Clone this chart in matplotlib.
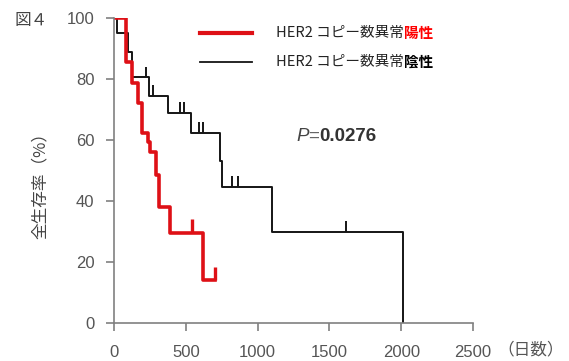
import numpy as np
import matplotlib
matplotlib.use('Agg')
import matplotlib.pyplot as plt
from matplotlib.lines import Line2D

# survival curves (days, % surviving)
pos_days = [0, 85, 125, 170, 195, 237, 251, 290, 310, 390, 620, 704]
pos_surv = [100, 85.7, 78.6, 72, 62.3, 59.5, 56, 48.5, 38, 29.5, 14, 14]
pos_cens_days = [544, 704]
pos_cens_surv = [29.5, 14]

neg_days = [0, 21, 98, 125, 244, 376, 537, 739, 753, 1101, 2014]
neg_surv = [100, 95, 89, 80.5, 74.5, 69, 62.3, 53, 44.6, 29.8, 0]
neg_cens_days = [223, 272, 460, 488, 592, 620, 822, 864, 1617]
neg_cens_surv = [80.5, 74.5, 69, 69, 62.3, 62.3, 44.6, 44.6, 29.8]

x_ticks = [0, 500, 1000, 1500, 2000, 2500]
y_ticks = [0, 20, 40, 60, 80, 100]

RED = '#de1016'
BLK = '#151515'
GRAY = '#808080'
TXT = '#555555'
cjk = ['Noto Sans CJK JP', 'DejaVu Sans']

plt.rcParams['font.family'] = ['Liberation Sans', 'Noto Sans CJK JP']

fig = plt.figure(figsize=(5.69, 3.61), dpi=100)
ax = fig.add_axes([114 / 569, 38 / 361, 359 / 569, 305 / 361])

ax.step(neg_days, neg_surv, where='post', color=BLK, lw=1.4)
ax.step(pos_days, pos_surv, where='post', color=RED, lw=2.6)
ax.vlines(neg_cens_days, neg_cens_surv, np.array(neg_cens_surv) + 3.5, color=BLK, lw=1.4)
ax.vlines(pos_cens_days, pos_cens_surv, np.array(pos_cens_surv) + 4.5, color=RED, lw=2.4)

ax.set_xlim(0, 2500)
ax.set_ylim(0, 100)
ax.set_xticks(x_ticks)
ax.set_yticks(y_ticks)
for s in ['top', 'right']:
    ax.spines[s].set_visible(False)
for s in ['left', 'bottom']:
    ax.spines[s].set_color(GRAY)
    ax.spines[s].set_linewidth(1.2)
ax.tick_params(colors=GRAY, labelcolor=TXT, labelsize=12, length=6, width=1.2)
ax.tick_params(axis='x', pad=10)
ax.tick_params(axis='y', pad=8)

# p value
t1 = ax.text(1268, 61.3, 'P', style='italic', fontsize=13.5, color='#444444', va='center')
t2 = ax.annotate('=', xy=(1, 0.5), xycoords=t1, va='center', fontsize=13.5, color='#666666')
ax.annotate('0.0276', xy=(1, 0.5), xycoords=t2, va='center', fontsize=13.5,
            fontweight='bold', color='#333333')

# legend drawn by hand (two colours in one label)
fig.add_artist(Line2D([200 / 569, 252 / 569], [1 - 33 / 361] * 2, color=RED, lw=3))
fig.add_artist(Line2D([200 / 569, 252 / 569], [1 - 62 / 361] * 2, color=BLK, lw=1.3))
a = fig.text(276 / 569, 1 - 33 / 361, 'HER2 コピー数異常', family=cjk, fontsize=10.5,
             color='#222222', va='center')
ax.annotate('陽性', xy=(1, 0.5), xycoords=a, va='center', family=cjk, fontsize=10.5,
            fontweight='bold', color='#ff0000', annotation_clip=False)
b = fig.text(276 / 569, 1 - 62 / 361, 'HER2 コピー数異常', family=cjk, fontsize=10.5,
             color='#222222', va='center')
ax.annotate('陰性', xy=(1, 0.5), xycoords=b, va='center', family=cjk, fontsize=10.5,
            fontweight='bold', color='#000000', annotation_clip=False)

fig.text(40 / 569, 1 - 182 / 361, '全生存率（%）', family=cjk, fontsize=12,
         color='#444444', rotation=90, ha='center', va='center')
fig.text(497 / 569, 1 - 350 / 361, '（日数）', family=cjk, fontsize=12,
         color=TXT, ha='left', va='center')
fig.text(14 / 569, 1 - 20 / 361, '図４', family=cjk, fontsize=12,
         color='#444444', ha='left', va='center')

fig.savefig('out.png', dpi=100)
